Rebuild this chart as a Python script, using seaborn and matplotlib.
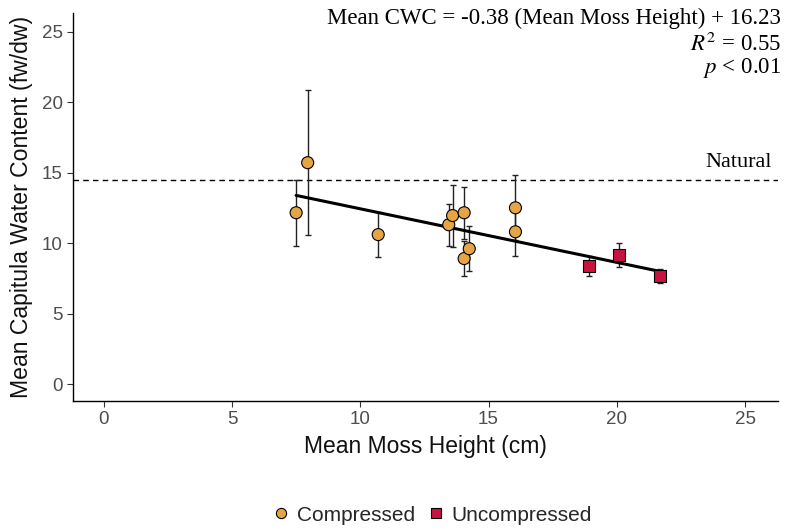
import matplotlib
matplotlib.use("Agg")
import matplotlib.pyplot as plt
import seaborn as sns
import numpy as np
import pandas as pd

# ---- data ----
moss_height = [7.5, 7.95, 10.7, 13.45, 13.6, 14.05, 14.05, 14.25, 16.05, 16.05, 18.9, 20.1, 21.7]
cwc = [12.15, 15.7, 10.6, 11.3, 11.95, 12.15, 8.9, 9.6, 12.5, 10.8, 8.35, 9.15, 7.65]
cwc_err = [2.35, 5.15, 1.6, 1.5, 2.2, 1.85, 1.25, 1.6, 2.3, 1.7, 0.7, 0.85, 0.5]
treatment = ["Compressed"] * 10 + ["Uncompressed"] * 3
slope, intercept = -0.38, 16.23
natural_level = 14.45
x_ticks = [0, 5, 10, 15, 20, 25]
y_ticks = [0, 5, 10, 15, 20, 25]

df = pd.DataFrame({"height": moss_height, "cwc": cwc, "err": cwc_err, "treatment": treatment})

sns.set_theme(style="ticks")
plt.rcParams["font.family"] = ["Liberation Sans", "DejaVu Sans"]

fig = plt.figure(figsize=(7.89, 5.29), dpi=100)
ax = fig.add_axes([0.0925, 0.242, 0.894, 0.733])

# natural reference line
ax.axhline(natural_level, color="black", lw=1.0, ls=(0, (4, 3)), zorder=1)
ax.text(26.05, natural_level + 0.6, "Natural", ha="right", va="bottom",
        family="Liberation Serif", fontsize=16, color="black")

# error bars
ax.errorbar(df["height"], df["cwc"], yerr=df["err"], fmt="none", ecolor="#222222",
            elinewidth=1.0, capsize=2.5, capthick=1.0, zorder=2)

# regression line
xfit = np.linspace(min(moss_height), max(moss_height), 50)
sns.lineplot(x=xfit, y=slope * xfit + intercept, color="black", lw=2.2, ax=ax, zorder=3)

palette = {"Compressed": "#E6A544", "Uncompressed": "#C8143F"}
markers = {"Compressed": "o", "Uncompressed": "s"}
sns.scatterplot(data=df, x="height", y="cwc", hue="treatment", style="treatment",
                palette=palette, markers=markers, s=75, edgecolor="black", linewidth=0.8,
                ax=ax, zorder=4)

ax.set_xlim(-1.2, 26.3)
ax.set_ylim(-1.2, 26.3)
ax.set_xticks(x_ticks)
ax.set_yticks(y_ticks)
ax.tick_params(colors="#4D4D4D", labelsize=13.5, length=4, width=0.8)
ax.tick_params(axis="both", color="#333333")
for s in ["top", "right"]:
    ax.spines[s].set_visible(False)
for s in ["left", "bottom"]:
    ax.spines[s].set_color("black")
    ax.spines[s].set_linewidth(1.0)

ax.set_xlabel("Mean Moss Height (cm)", fontsize=16.5, color="#111111", labelpad=5)
ax.set_ylabel("Mean Capitula Water Content (fw/dw)", fontsize=16.6, color="#111111", labelpad=6)

# annotation
ann_kw = dict(transform=fig.transFigure, ha="right", va="center",
              family="Liberation Serif", fontsize=16.5, color="black")
fig.text(0.99, 0.965, "Mean CWC = -0.38 (Mean Moss Height) + 16.23", **ann_kw)
fig.text(0.99, 0.917, r"$R^2$ = 0.55", math_fontfamily="stix", **ann_kw)
fig.text(0.99, 0.872, r"$p$ < 0.01", math_fontfamily="stix", **ann_kw)

# legend at bottom
h, l = ax.get_legend_handles_labels()
ax.get_legend().remove()
fig.legend(h, l, loc="center", bbox_to_anchor=(0.547, 0.026), ncol=2, frameon=False,
           fontsize=15, handlelength=1.0, handletextpad=0.25, columnspacing=0.5,
           markerscale=0.85)

fig.savefig("out.png", dpi=100)
